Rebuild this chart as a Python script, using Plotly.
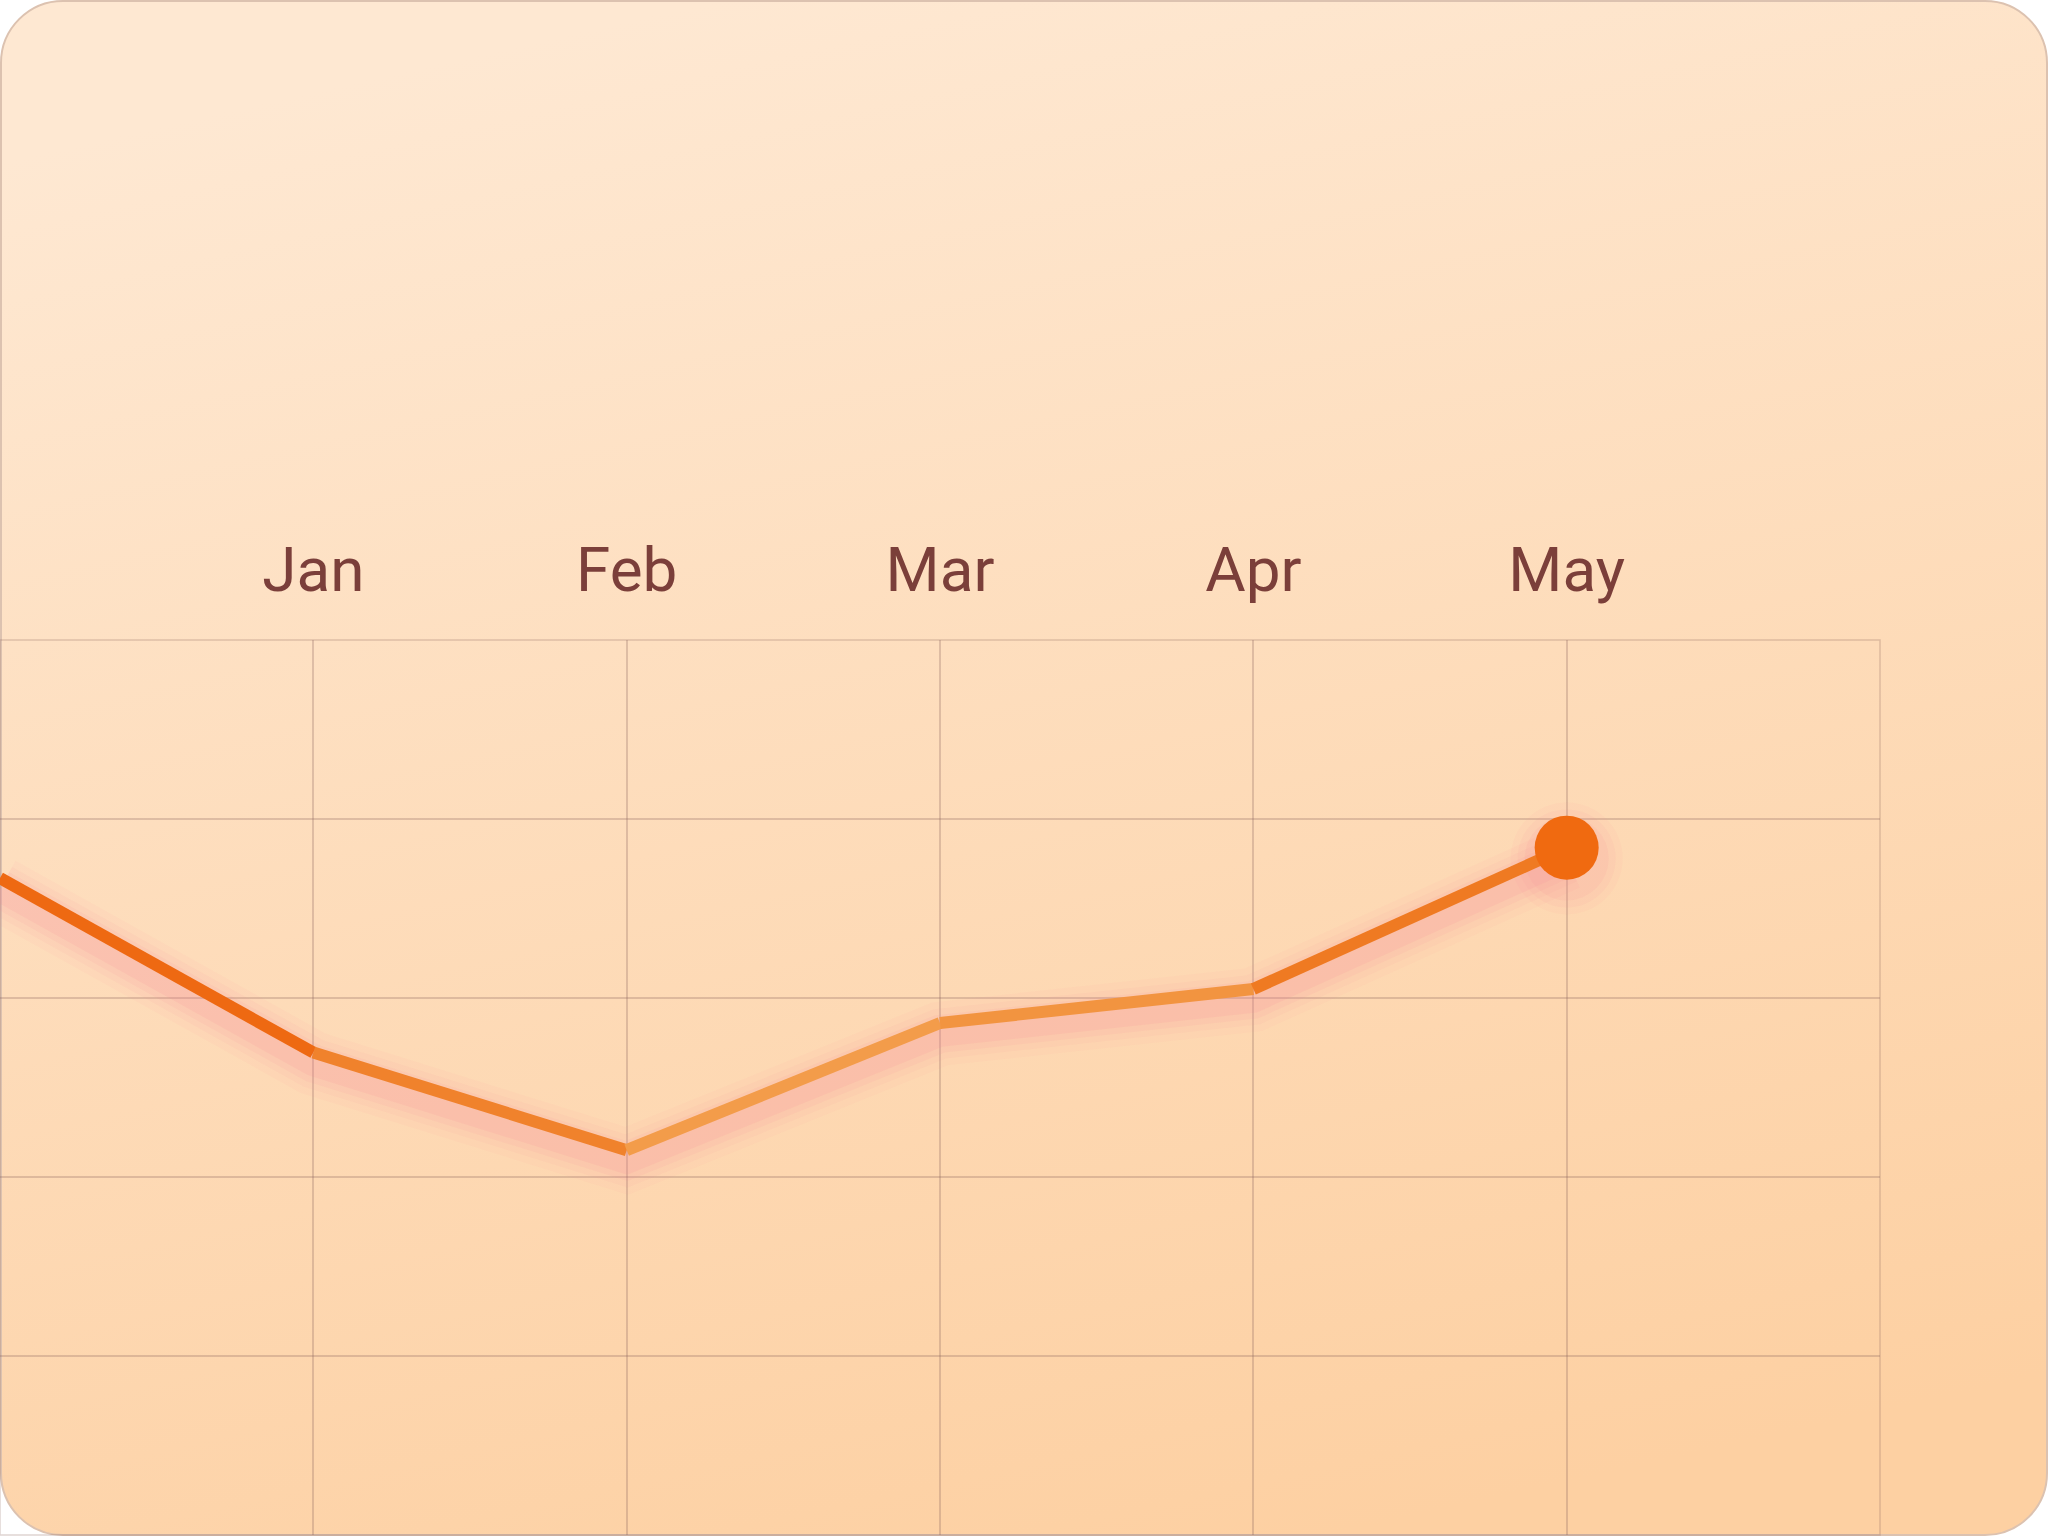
import base64

import plotly.graph_objects as go

# data: month labels and the series values (0-100 scale)
months = ["", "Jan", "Feb", "Mar", "Apr", "May", ""]
values = [73.4, 53.9, 43.0, 57.2, 61.0, 76.8]

# styles
segment_colors = ["#EE6912", "#F0822C", "#F39C4A", "#F29440", "#EF7A22"]
label_color = "#7B3F3A"
grid_color = "rgba(140,100,95,0.28)"
glow_color = "rgba(247,135,150,{a})"

x_idx = list(range(len(values)))
last = len(values) - 1

# card background: rounded rect with soft vertical gradient
svg = (
    "<svg xmlns='http://www.w3.org/2000/svg' width='2048' height='1536' viewBox='0 0 2048 1536'>"
    "<defs><linearGradient id='g' x1='0.35' y1='0' x2='0.65' y2='1'>"
    "<stop offset='0' stop-color='#FEE8D2'/><stop offset='1' stop-color='#FDD0A2'/>"
    "</linearGradient></defs>"
    "<rect x='1' y='1' width='2046' height='1534' rx='62' ry='62' fill='url(#g)' "
    "stroke='#DCC2B0' stroke-width='2'/></svg>"
)
bg_src = "data:image/svg+xml;base64," + base64.b64encode(svg.encode()).decode()

fig = go.Figure()

# glow under the line (main y axis, range shifted so it sits a bit lower)
for w, a in [(64, 0.05), (50, 0.07), (38, 0.09), (26, 0.12)]:
    fig.add_trace(go.Scatter(
        x=x_idx, y=values, mode="lines", yaxis="y",
        line=dict(color=glow_color.format(a=a), width=w),
        hoverinfo="skip", showlegend=False,
    ))
for s, a in [(112, 0.06), (98, 0.08), (84, 0.10)]:
    fig.add_trace(go.Scatter(
        x=[x_idx[last]], y=[values[last]], mode="markers", yaxis="y",
        marker=dict(size=s, color=glow_color.format(a=a), line=dict(width=0)),
        hoverinfo="skip", showlegend=False,
    ))

# line, drawn segment by segment for the colour gradient
for i in range(len(values) - 1):
    fig.add_trace(go.Scatter(
        x=x_idx[i:i + 2], y=values[i:i + 2], mode="lines", yaxis="y2",
        line=dict(color=segment_colors[i], width=12),
        hoverinfo="skip", showlegend=False,
    ))

# end point marker
fig.add_trace(go.Scatter(
    x=[x_idx[last]], y=[values[last]], mode="markers", yaxis="y2",
    marker=dict(size=64, color="#F06A10", line=dict(width=0)),
    showlegend=False,
))

ydom = [1 / 1536, 896 / 1536]
fig.update_layout(
    width=2048, height=1536,
    margin=dict(l=0, r=0, t=0, b=0),
    paper_bgcolor="white",
    plot_bgcolor="rgba(0,0,0,0)",
    images=[dict(source=bg_src, xref="paper", yref="paper", x=0, y=1,
                 sizex=1, sizey=1, sizing="stretch", layer="below")],
    xaxis=dict(
        domain=[0, 1880 / 2048], range=[0, len(months) - 1],
        tickvals=list(range(len(months))), ticktext=months,
        side="top", ticks="", ticklabelstandoff=36,
        tickfont=dict(family="Roboto", size=62, color=label_color),
        showgrid=True, gridcolor=grid_color, gridwidth=1.5,
        zeroline=False, showline=False,
    ),
    yaxis=dict(
        domain=ydom, range=[1.2, 101.2],
        visible=False, showgrid=False, zeroline=False,
    ),
    yaxis2=dict(
        domain=ydom, range=[0, 100], dtick=20, overlaying="y",
        showticklabels=False, ticks="",
        showgrid=True, gridcolor=grid_color, gridwidth=1.5,
        zeroline=False, showline=False,
    ),
    # outer frame of the grid (edge grid lines)
    shapes=[dict(type="rect", xref="x domain", yref="y domain",
                 x0=0, x1=1, y0=0, y1=1,
                 line=dict(color=grid_color, width=1.5), layer="below")],
)

fig.write_html(
    "out.html",
    config={"displayModeBar": False},
    post_script="document.body.style.margin='0';document.body.style.overflow='hidden';",
)
